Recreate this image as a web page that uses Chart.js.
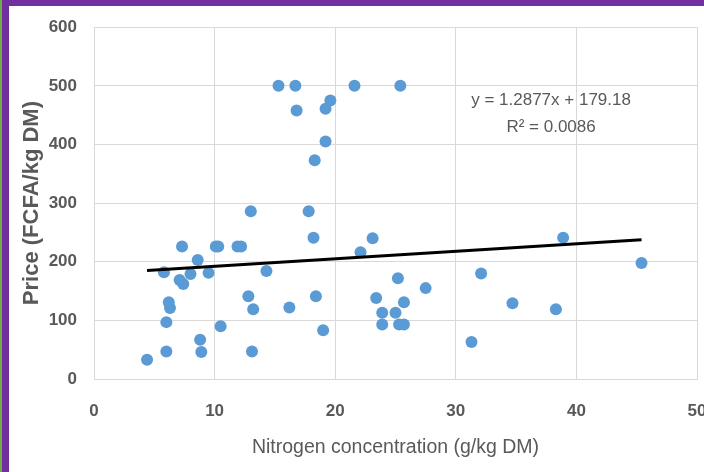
<!DOCTYPE html>
<html>
<head>
<meta charset="utf-8">
<script src="https://cdn.jsdelivr.net/npm/chart.js@4.4.1/dist/chart.umd.min.js"></script>
<style>
  body { margin: 0; background: #fff; overflow: hidden; width: 704px; height: 472px; position: relative; }
  #wrap { position: absolute; left: 0; top: 0; }
  .bar { position: absolute; }
</style>
</head>
<body>
<div id="wrap"><canvas id="myChart" width="720" height="472"></canvas></div>
<div class="bar" style="left:0;top:0;width:2px;height:472px;background:#70AD47"></div>
<div class="bar" style="left:2px;top:0;width:7px;height:472px;background:#7030A0"></div>
<div class="bar" style="left:2px;top:0;width:702px;height:6px;background:#7030A0"></div>
<script>
// nitrogen (g/kg DM) vs price (FCFA/kg DM)
var nitrogen = [4.4, 6.0, 6.0, 6.2, 6.3, 5.8, 7.3, 7.1, 7.4, 8.0, 8.6, 8.8, 8.9, 9.5, 10.1, 10.3, 10.5, 11.9, 12.2,
    13.0, 12.8, 13.2, 13.1, 14.3, 15.3, 16.7, 16.8, 16.2, 17.8, 18.2, 18.3, 18.4, 19.0, 19.2, 19.2, 19.6,
    21.6, 22.1, 23.1, 23.4, 23.9, 23.9, 25.0, 25.2, 25.4, 25.3, 25.7, 25.7, 27.5, 31.3, 32.1, 34.7, 38.3, 38.9, 45.4];
var price = [33, 47, 97, 131, 121, 182, 226, 169, 162, 179, 203, 67, 46, 181, 226, 226, 90, 226, 226,
    286, 141, 119, 47, 184, 500, 500, 458, 122, 286, 241, 373, 141, 83, 405, 461, 475,
    500, 216, 240, 138, 113, 93, 113, 172, 500, 93, 93, 131, 155, 63, 180, 129, 119, 241, 198];

var slope = 1.2877;
var intercept = 179.18;
var eqText = ["y = 1.2877x + 179.18", "R\u00B2 = 0.0086"];
var eqAt = { x: 37.9, y: 476 };

var xTicks = [0, 10, 20, 30, 40, 50];
var yTicks = [0, 100, 200, 300, 400, 500, 600];

var SANS = "'Liberation Sans', Arial, sans-serif";
var gray = "#595959";
var gridCol = "#D9D9D9";

var pts = [];
for (var i = 0; i < nitrogen.length; i++) {
    pts.push({ x: nitrogen[i], y: price[i] });
}
var xmin = Math.min.apply(null, nitrogen);
var xmax = Math.max.apply(null, nitrogen);
var trend = [
    { x: xmin, y: slope * xmin + intercept },
    { x: xmax, y: slope * xmax + intercept }
];

var eqPlugin = {
    id: 'eq',
    afterDatasetsDraw: function (chart) {
        var ctx = chart.ctx;
        var px = chart.scales.x.getPixelForValue(eqAt.x);
        var py = chart.scales.y.getPixelForValue(eqAt.y);
        ctx.save();
        ctx.font = "17px " + SANS;
        ctx.fillStyle = gray;
        ctx.textAlign = 'center';
        ctx.textBaseline = 'middle';
        ctx.fillText(eqText[0], px, py);
        ctx.fillText(eqText[1], px, py + 27);
        ctx.restore();
    }
};

var ctx = document.getElementById('myChart').getContext('2d');
var myChart = new Chart(ctx, {
    type: 'scatter',
    data: {
        datasets: [{
            type: 'line',
            data: trend,
            borderColor: '#000000',
            borderWidth: 3,
            pointRadius: 0,
            fill: false,
            order: 0
        }, {
            data: pts,
            backgroundColor: '#5B9BD5',
            borderColor: '#5B9BD5',
            borderWidth: 0,
            pointRadius: 6,
            pointHoverRadius: 6,
            order: 1
        }]
    },
    options: {
        responsive: false,
        animation: false,
        layout: { padding: { top: 25, right: 23, bottom: 0, left: 0 } },
        plugins: { legend: { display: false }, tooltip: { enabled: false } },
        scales: {
            x: {
                type: 'linear',
                min: 0,
                max: 50,
                afterBuildTicks: function (scale) {
                    scale.ticks = xTicks.map(function (v) { return { value: v }; });
                },
                afterFit: function (scale) {
                    scale.height = 93;
                    scale.paddingRight = 0;
                    scale.paddingLeft = 0;
                },
                grid: { color: gridCol, lineWidth: 1, drawTicks: false },
                border: { color: gridCol },
                ticks: {
                    padding: 22,
                    color: gray,
                    font: { family: SANS, size: 17, weight: 'bold' }
                },
                title: {
                    display: true,
                    text: 'Nitrogen concentration (g/kg DM)',
                    color: gray,
                    font: { family: SANS, size: 19.5 },
                    padding: { top: 0, bottom: 13 }
                }
            },
            y: {
                min: 0,
                max: 600,
                afterBuildTicks: function (scale) {
                    scale.ticks = yTicks.map(function (v) { return { value: v }; });
                },
                afterFit: function (scale) { scale.width = 94; },
                grid: { color: gridCol, lineWidth: 1, drawTicks: false },
                border: { color: gridCol },
                ticks: {
                    padding: 17,
                    color: gray,
                    font: { family: SANS, size: 17, weight: 'bold' }
                },
                title: {
                    display: true,
                    text: 'Price (FCFA/kg DM)',
                    color: gray,
                    font: { family: SANS, size: 22, weight: 'bold' },
                    padding: { top: 19, bottom: 0 }
                }
            }
        }
    },
    plugins: [eqPlugin]
});
</script>
</body>
</html>
